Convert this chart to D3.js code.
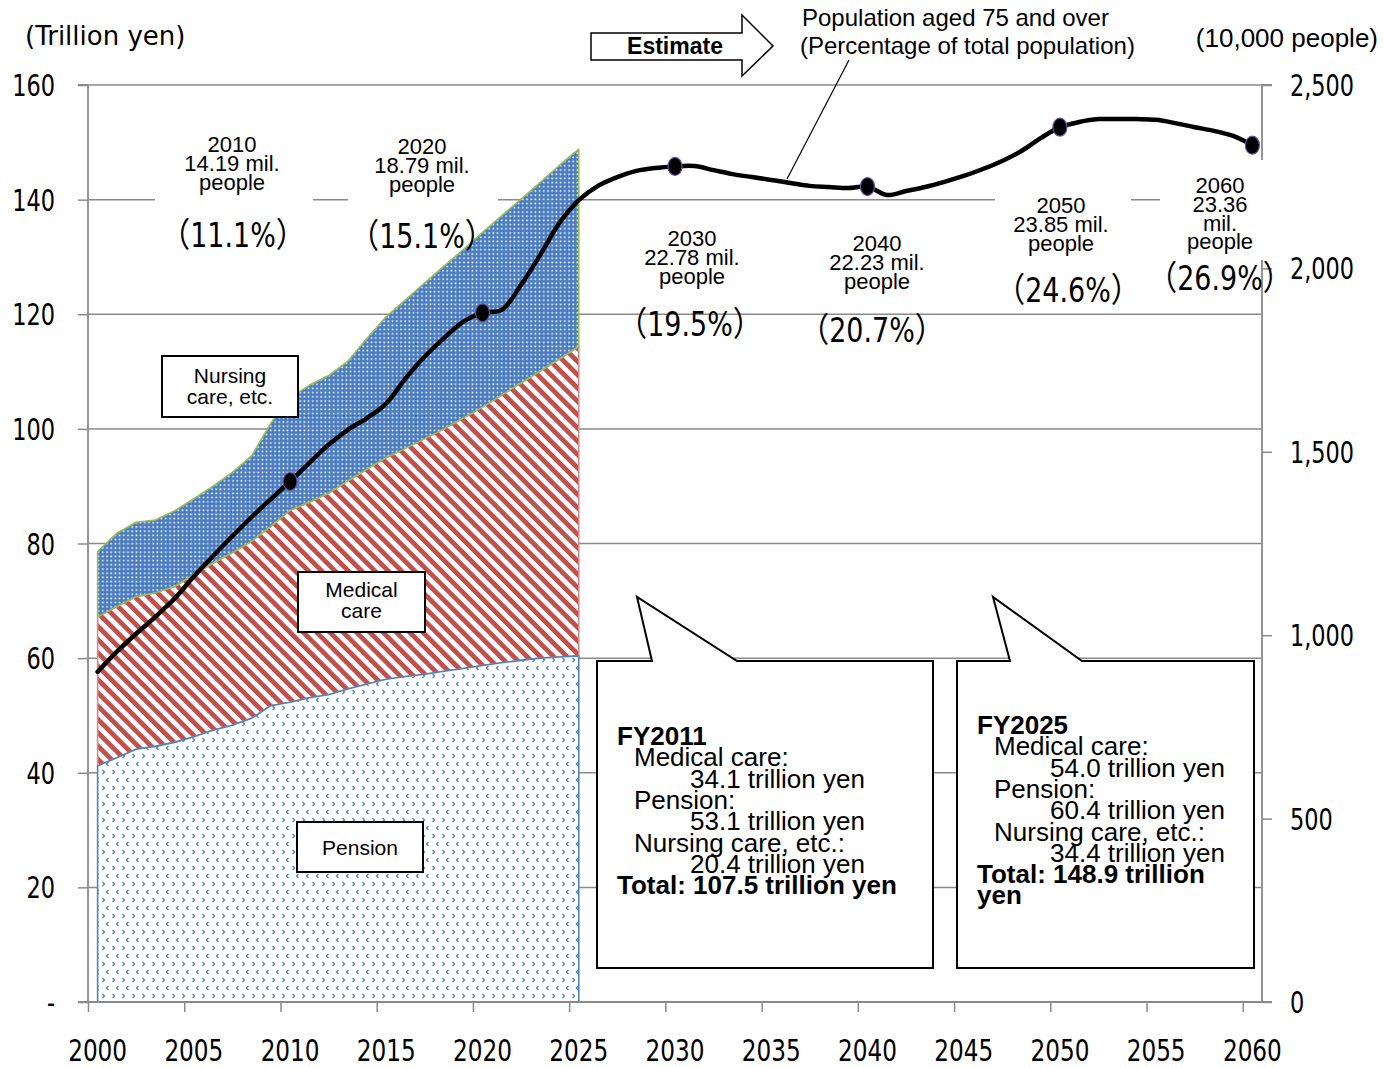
<!DOCTYPE html>
<html><head><meta charset="utf-8">
<script src="https://cdn.jsdelivr.net/npm/d3@7"></script>
<style>body{margin:0;background:#fff}svg{display:block}</style>
</head><body>
<svg id="c" width="1384" height="1067"></svg>
<script>
// ---------------- data ----------------
const years = [2000,2001,2002,2003,2004,2005,2006,2007,2008,2009,2010,2011,2012,2013,2014,2015,2016,2017,2018,2019,
  2020,2021,2022,2023,2024,2025,2026,2027,2028,2029,2030,2031,2032,2033,2034,2035,2036,2037,2038,2039,
  2040,2041,2042,2043,2044,2045,2046,2047,2048,2049,2050,2051,2052,2053,2054,2055,2056,2057,2058,2059,2060];
const areaYears = [2000,2001,2002,2003,2004,2005,2006,2007,2008,2009,2010,2011,2012,2013,2014,2015,2016,2017,2018,2019,
  2020,2021,2022,2023,2024,2025];
// trillion yen
const pension = [41.2,42.6,44.1,44.6,45.3,46.3,47.4,48.3,49.5,51.7,52.3,53.1,53.6,54.6,55.5,56.3,56.8,57.2,57.7,58.2,
  58.7,59.2,59.6,60.0,60.2,60.4];
const medical = [26.0,26.4,26.6,26.8,27.2,28.3,29.2,30.1,30.9,31.3,33.5,34.1,35.2,36.3,37.5,38.7,39.8,41.1,42.3,43.7,
  45.1,46.7,48.4,50.1,52.0,54.0];
const nursing = [11.4,12.8,13.0,12.7,13.2,13.2,13.4,14.0,14.9,18.0,19.7,20.4,20.5,20.9,22.8,24.6,25.9,27.2,28.4,29.4,
  30.5,31.3,32.1,32.9,33.8,34.4];
// population aged 75+, 10,000 people
const pop75 = [900,955,1004,1050,1100,1160,1216,1270,1322,1371,1419,1470,1519,1560,1592,1632,1700,1760,1810,1855,
  1879,1887,1955,2037,2124,2186,2225,2249,2266,2274,2278,2279,2268,2257,2249,2241,2233,2225,2222,2219,
  2223,2200,2211,2222,2236,2252,2271,2293,2320,2355,2385,2399,2407,2407,2407,2405,2396,2385,2375,2361,2336];
const markerYears = [2010,2020,2030,2040,2050,2060];
const leftTicks = [0,20,40,60,80,100,120,140,160];
const leftTickLabels = ["-","20","40","60","80","100","120","140","160"];
const rightTicks = [0,500,1000,1500,2000,2500];
const rightTickLabels = ["0","500","1,000","1,500","2,000","2,500"];
const xTickYears = [2000,2005,2010,2015,2020,2025,2030,2035,2040,2045,2050,2055,2060];
const popLabelLines = [["2010","14.19 mil.","people"],["2020","18.79 mil.","people"],["2030","22.78 mil.","people"],
  ["2040","22.23 mil.","people"],["2050","23.85 mil.","people"],["2060","23.36","mil.","people"]];
const popPct = ["（11.1%）","（15.1%）","（19.5%）","（20.7%）","（24.6%）","（26.9%）"];
const box2011 = ["FY2011","Medical care:","34.1 trillion yen","Pension:","53.1 trillion yen","Nursing care, etc.:","20.4 trillion yen","Total: 107.5 trillion yen"];
const box2025 = ["FY2025","Medical care:","54.0 trillion yen","Pension:","60.4 trillion yen","Nursing care, etc.:","34.4 trillion yen","Total: 148.9 trillion","yen"];

// ---------------- setup ----------------
const svg = d3.select('#c');
const P = {l:88, r:1262, t:85, b:1002};
const x = d3.scaleBand().domain(years).range([P.l, P.r]).padding(0);
const xc = d => x(d) + x.bandwidth()/2;
const yL = d3.scaleLinear().domain([0,160]).range([P.b, P.t]);
const yR = d3.scaleLinear().domain([0,2500]).range([P.b, P.t]);
const COND = "'Liberation Sans Narrow','DejaVu Sans Condensed','DejaVu Sans',sans-serif";
const ARIAL = "'Liberation Sans',Arial,sans-serif";
const GRID = "#8a8a8a";
const BLUE = "#4f81bd", RED = "#c0504d", GREEN = "#9bbb59";

// condensed text helper: measure natural width, then squeeze with textLength
function condText(g, px, py, anchor, str, size, sx, family){
  const t = g.append('text').attr('x',px).attr('y',py)
    .attr('text-anchor',anchor).attr('font-family',family||COND).attr('font-size',size).text(str);
  const w = t.node().getComputedTextLength();
  if (w > 0 && sx !== 1) t.attr('textLength', (w*sx).toFixed(1)).attr('lengthAdjust','spacingAndGlyphs');
  return t;
}

// patterns
const defs = svg.append('defs');
const pp = defs.append('pattern').attr('id','pen').attr('patternUnits','userSpaceOnUse').attr('width',10).attr('height',16);
pp.append('rect').attr('width',10).attr('height',16).attr('fill','#fff');
pp.append('path').attr('d','M2.5,2 L4.5,4 L2.5,6').attr('fill','none').attr('stroke',BLUE).attr('stroke-width',1.3);
pp.append('path').attr('d','M8.5,10 L6.5,12 L8.5,14').attr('fill','none').attr('stroke',BLUE).attr('stroke-width',1.3);
const mp = defs.append('pattern').attr('id','med').attr('patternUnits','userSpaceOnUse').attr('width',9.4).attr('height',9.4)
  .attr('patternTransform','rotate(-45)');
mp.append('rect').attr('width',9.4).attr('height',9.4).attr('fill','#fff');
mp.append('rect').attr('width',4.8).attr('height',9.4).attr('fill',RED);
const np = defs.append('pattern').attr('id','nur').attr('patternUnits','userSpaceOnUse').attr('width',4.2).attr('height',4.2);
np.append('rect').attr('width',4.2).attr('height',4.2).attr('fill','#4a7cbf');
np.append('rect').attr('x',1.2).attr('y',1.2).attr('width',1.6).attr('height',1.6).attr('fill','#fff');

// gridlines
svg.append('g').selectAll('line').data(leftTicks.filter(v=>v>0)).join('line')
  .attr('x1',P.l).attr('x2',P.r).attr('y1',d=>yL(d)).attr('y2',d=>yL(d))
  .attr('stroke',GRID).attr('stroke-width',1.5);

// stacked areas
const rows = areaYears.map((yr,i)=>({year:yr, pension:pension[i], medical:medical[i], nursing:nursing[i]}));
const stack = d3.stack().keys(['pension','medical','nursing'])(rows);
const area = d3.area().x(d=>xc(d.data.year)).y0(d=>yL(d[0])).y1(d=>yL(d[1]));
const fills = {pension:'url(#pen)', medical:'url(#med)', nursing:'url(#nur)'};
const strokes = {pension:BLUE, medical:'#d98a88', nursing:GREEN};
const byKey = {}; stack.forEach(s=>byKey[s.key]=s);
['medical','pension','nursing'].forEach(k=>{
  svg.append('path').datum(byKey[k]).attr('d',area).attr('fill',fills[k])
    .attr('stroke',strokes[k]).attr('stroke-width',1.6).attr('stroke-linejoin','round');
});

// axes (lines and ticks via d3 axes, labels drawn condensed)
const axL = d3.axisLeft(yL).tickValues(leftTicks).tickSize(10).tickFormat('');
const gL = svg.append('g').attr('transform',`translate(${P.l},0)`).call(axL);
const axR = d3.axisRight(yR).tickValues(rightTicks).tickSize(10).tickFormat('');
const gR = svg.append('g').attr('transform',`translate(${P.r},0)`).call(axR);
const xb = d3.scaleLinear().domain([years[0]-0.5, years[years.length-1]+0.5]).range([P.l,P.r]);
const axB = d3.axisBottom(xb).tickValues(xTickYears.map(v=>v-0.5)).tickSize(10).tickFormat('');
const gB = svg.append('g').attr('transform',`translate(0,${P.b})`).call(axB);
[gL,gR,gB].forEach(g=>{
  g.select('.domain').attr('stroke',GRID).attr('stroke-width',1.8);
  g.selectAll('.tick line').attr('stroke',GRID).attr('stroke-width',1.5);
});
gL.select('.domain').attr('d',`M-10,${P.t}H0V${P.b}H-10`);
gR.select('.domain').attr('d',`M10,${P.t}H0V${P.b}H10`);
gB.select('.domain').attr('d',`M${P.l},0H${P.r}`);
const gLab = svg.append('g').attr('fill','#000');
leftTicks.forEach((v,i)=>condText(gLab, 55, yL(v)+11, 'end', leftTickLabels[i], 30, 0.83));
rightTicks.forEach((v,i)=>condText(gLab, 1290, yR(v)+11, 'start', rightTickLabels[i], 30, 0.83));
xTickYears.forEach(v=>condText(gLab, xc(v), 1061, 'middle', String(v), 31, 0.83));

// axis titles
svg.append('text').attr('x',25).attr('y',45).attr('font-family',"'DejaVu Sans',sans-serif").attr('font-size',26).text('(Trillion yen)');
svg.append('text').attr('x',1378).attr('y',47).attr('text-anchor','end').attr('font-family',ARIAL).attr('font-size',26).text('(10,000 people)');

// Estimate arrow
svg.append('path').attr('d','M591,33H742V15L773,46L742,76V60H591Z').attr('fill','#fff').attr('stroke','#000').attr('stroke-width',1.5);
svg.append('text').attr('x',675).attr('y',54).attr('text-anchor','middle').attr('font-family',ARIAL)
  .attr('font-weight','bold').attr('font-size',23).text('Estimate');
svg.append('text').attr('x',802).attr('y',26).attr('font-family',ARIAL).attr('font-size',24).text('Population aged 75 and over');
svg.append('text').attr('x',800).attr('y',54).attr('font-family',ARIAL).attr('font-size',24).text('(Percentage of total population)');
svg.append('line').attr('x1',849).attr('y1',60).attr('x2',787).attr('y2',179).attr('stroke','#000').attr('stroke-width',1.2);

// population label boxes (white backgrounds)
const popBoxes = [[155,128,158,84],[348,128,150,84],null,null,[995,190,136,68],[1160,160,120,100]];
popBoxes.forEach(b=>{ if(b) svg.append('rect').attr('x',b[0]).attr('y',b[1]).attr('width',b[2]).attr('height',b[3]).attr('fill','#fff'); });
const popLabelPos = [[232,152],[422,154],[692,246],[877,251],[1061,213],[1220,193]];
const pctPos = [[233,247],[422,248],[690,336],[872,342],[1068,302],[1220,290]];
popLabelLines.forEach((lines,i)=>{
  const t = svg.append('text').attr('text-anchor','middle').attr('font-family',ARIAL).attr('font-size',22);
  lines.forEach((s,j)=>t.append('tspan').attr('x',popLabelPos[i][0]).attr('y',popLabelPos[i][1]+j*18.8).text(s));
  condText(svg, pctPos[i][0], pctPos[i][1], 'middle', popPct[i], 34, 0.88,
    "'Liberation Sans Narrow','DejaVu Sans Condensed','Noto Sans CJK JP',sans-serif");
});

// area label boxes
function labelBox(x0,y0,w,h,lines,cy){
  svg.append('rect').attr('x',x0).attr('y',y0).attr('width',w).attr('height',h).attr('fill','#fff').attr('stroke','#000').attr('stroke-width',2);
  const t = svg.append('text').attr('text-anchor','middle').attr('font-family',ARIAL).attr('font-size',21);
  lines.forEach((s,j)=>t.append('tspan').attr('x',x0+w/2).attr('y',cy+j*21).text(s));
}
labelBox(162,356,136,61,['Nursing','care, etc.'],383);
labelBox(298,572,127,60,['Medical','care'],597);
labelBox(297,822,126,50,['Pension'],855);

// callout boxes
function callout(x0,y0,x1,y1,p1,tip,p2,lines,tx,ty,boldIdx){
  svg.append('path').attr('d',`M${x0},${y0}H${p1}L${tip[0]},${tip[1]}L${p2},${y0}H${x1}V${y1}H${x0}Z`)
    .attr('fill','#fff').attr('stroke','#000').attr('stroke-width',2);
  const t = svg.append('text').attr('font-family',ARIAL).attr('font-size',26);
  lines.forEach((s,j)=>{
    const bold = boldIdx.includes(j);
    const indent = bold ? 0 : (s.includes('trillion') ? 73 : 17);
    t.append('tspan').attr('x',tx+indent).attr('y',ty+j*21.3).attr('font-weight',bold?'bold':'normal').text(s);
  });
}
callout(597,661,933,968,652,[637,597],737,box2011,617,745,[0,7]);
callout(957,661,1254,968,1010,[993,597],1082,box2025,977,734,[0,7,8]);

// population line
const line = d3.line().x((d,i)=>xc(years[i])).y(d=>yR(d)).curve(d3.curveCatmullRom.alpha(0.5));
svg.append('path').datum(pop75).attr('d',line).attr('fill','none').attr('stroke','#000')
  .attr('stroke-width',4.5).attr('stroke-linejoin','round').attr('stroke-linecap','round');
svg.append('g').selectAll('ellipse').data(markerYears).join('ellipse')
  .attr('cx',d=>xc(d)).attr('cy',d=>yR(pop75[years.indexOf(d)]))
  .attr('rx',7).attr('ry',9).attr('fill','#000').attr('stroke','#6b4c9a').attr('stroke-width',1.2);
</script>
</body></html>
